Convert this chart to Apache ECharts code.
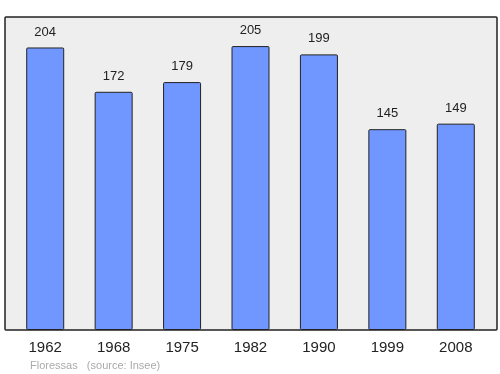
<!DOCTYPE html>
<html><head><meta charset="utf-8">
<script src="https://cdn.jsdelivr.net/npm/echarts@6/dist/echarts.min.js"></script>
<style>html,body{margin:0;padding:0;background:#fff}#c{width:500px;height:374px}</style>
</head><body><div id="c"></div>
<script>
var categories = ['1962','1968','1975','1982','1990','1999','2008'];
var population = [204,172,179,205,199,145,149];
var chart = echarts.init(document.getElementById('c'), null, {renderer:'canvas'});
chart.setOption({
  animation:false,
  backgroundColor:'#ffffff',
  graphic:[
    {type:'rect', z:-10, shape:{x:5,y:17,width:492,height:313,r:1}, style:{fill:'#eeeeee',stroke:'#222',lineWidth:1.5}},
    {type:'text', left:30, top:360, style:{text:'Floressas   (source: Insee)', fill:'#aaaaaa', font:'11px "Liberation Sans", Arial, sans-serif'}}
  ],
  grid:{left:11, right:10, top:17, bottom:44},
  xAxis:{type:'category', data:categories, axisLine:{show:false}, axisTick:{show:false},
    axisLabel:{color:'#222', fontSize:15, margin:10, fontFamily:'"Liberation Sans", Arial, sans-serif'}},
  yAxis:{type:'value', min:0, max:226, show:false, splitLine:{show:false}},
  series:[{type:'bar', data:population, barWidth:38,
    itemStyle:{color:'#6f97ff', borderColor:'#222', borderWidth:1, borderRadius:1},
    label:{show:true, position:'top', distance:9, color:'#222', fontSize:13, fontFamily:'"Liberation Sans", Arial, sans-serif'}}]
});
</script></body></html>
